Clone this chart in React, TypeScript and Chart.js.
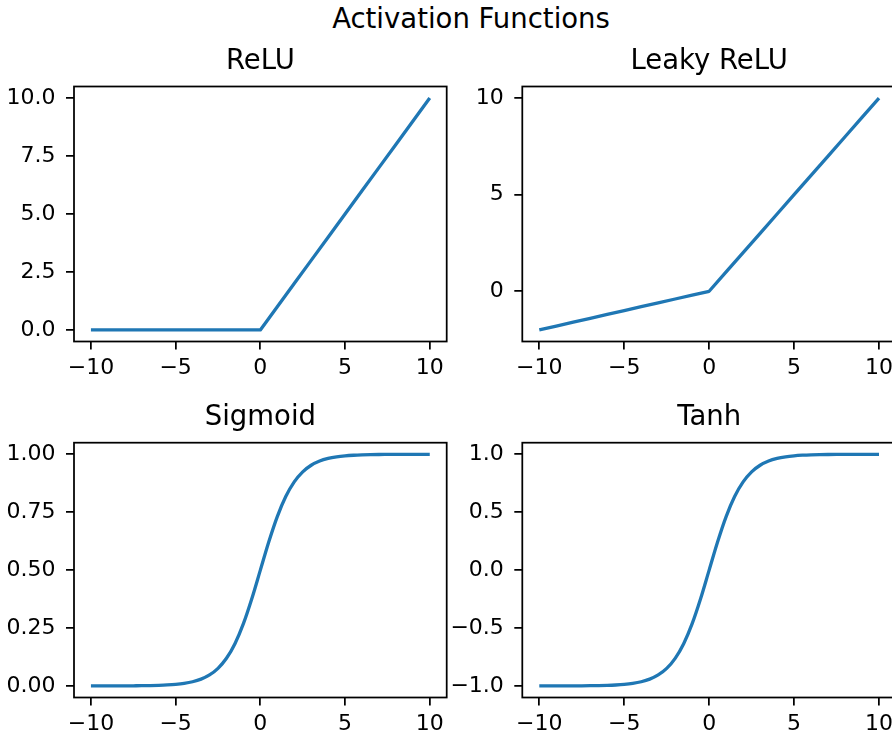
import React, { useEffect, useRef } from 'react';
import { Chart, registerables } from 'chart.js';

Chart.register(...registerables);

// ---------------- data ----------------
const FIG_TITLE = 'Activation Functions';
const PANEL_TITLES = ['ReLU', 'Leaky ReLU', 'Sigmoid', 'Tanh'];

const X_LINE = [-10, -9, -8, -7, -6, -5, -4, -3, -2, -1, 0, 1, 2, 3, 4, 5, 6, 7, 8, 9, 10];
const RELU_Y = [0, 0, 0, 0, 0, 0, 0, 0, 0, 0, 0, 1, 2, 3, 4, 5, 6, 7, 8, 9, 10];
const LEAKY_Y = [-2, -1.8, -1.6, -1.4, -1.2, -1, -0.8, -0.6, -0.4, -0.2, 0, 1, 2, 3, 4, 5, 6, 7, 8, 9, 10];

const X_SMOOTH = [
  -10, -9.5, -9, -8.5, -8, -7.5, -7, -6.5, -6, -5.5, -5, -4.5, -4, -3.5, -3, -2.5, -2, -1.5, -1, -0.5,
  0, 0.5, 1, 1.5, 2, 2.5, 3, 3.5, 4, 4.5, 5, 5.5, 6, 6.5, 7, 7.5, 8, 8.5, 9, 9.5, 10,
];
const SIGMOID_Y = [
  0.0000, 0.0001, 0.0001, 0.0002, 0.0003, 0.0006, 0.0009, 0.0015, 0.0025, 0.0041, 0.0067, 0.0110, 0.0180,
  0.0293, 0.0474, 0.0759, 0.1192, 0.1824, 0.2689, 0.3775, 0.5000, 0.6225, 0.7311, 0.8176, 0.8808, 0.9241,
  0.9526, 0.9707, 0.9820, 0.9890, 0.9933, 0.9959, 0.9975, 0.9985, 0.9991, 0.9994, 0.9997, 0.9998, 0.9999,
  0.9999, 1.0000,
];
const TANH_Y = [
  -0.9999, -0.9999, -0.9998, -0.9996, -0.9993, -0.9989, -0.9982, -0.9970, -0.9951, -0.9918, -0.9866, -0.9780,
  -0.9640, -0.9414, -0.9051, -0.8483, -0.7616, -0.6351, -0.4621, -0.2449, 0.0, 0.2449, 0.4621, 0.6351, 0.7616,
  0.8483, 0.9051, 0.9414, 0.9640, 0.9780, 0.9866, 0.9918, 0.9951, 0.9970, 0.9982, 0.9989, 0.9993, 0.9996,
  0.9998, 0.9999, 0.9999,
];

const X_TICKS = [-10, -5, 0, 5, 10];
const X_TICK_LABELS = ['−10', '−5', '0', '5', '10'];
const RELU_Y_TICKS = [0, 2.5, 5, 7.5, 10];
const RELU_Y_LABELS = ['0.0', '2.5', '5.0', '7.5', '10.0'];
const LEAKY_Y_TICKS = [0, 5, 10];
const LEAKY_Y_LABELS = ['0', '5', '10'];
const SIGMOID_Y_TICKS = [0, 0.25, 0.5, 0.75, 1];
const SIGMOID_Y_LABELS = ['0.00', '0.25', '0.50', '0.75', '1.00'];
const TANH_Y_TICKS = [-1, -0.5, 0, 0.5, 1];
const TANH_Y_LABELS = ['−1.0', '−0.5', '0.0', '0.5', '1.0'];

// ---------------- styling / layout ----------------
const FONT = '"DejaVu Sans", "Liberation Sans", sans-serif';
const LINE_COLOR = '#1f77b4';
const TICK_SIZE = 22;
const TITLE_SIZE = 27.5;
const SPINE_W = 1.75;

type Rect = { left: number; top: number; w: number; h: number };
type Area = { L: number; T: number; R: number; B: number };

type PanelSpec = {
  title: string;
  xs: number[];
  ys: number[];
  yTicks: number[];
  yLabels: string[];
  smooth: boolean;
  canvas: Rect;
  area: Area;
};

const PANELS: PanelSpec[] = [
  {
    title: PANEL_TITLES[0], xs: X_LINE, ys: RELU_Y, yTicks: RELU_Y_TICKS, yLabels: RELU_Y_LABELS, smooth: false,
    canvas: { left: 0, top: 0, w: 470, h: 385 }, area: { L: 74, T: 86.5, R: 446.7, B: 341.5 },
  },
  {
    title: PANEL_TITLES[1], xs: X_LINE, ys: LEAKY_Y, yTicks: LEAKY_Y_TICKS, yLabels: LEAKY_Y_LABELS, smooth: false,
    canvas: { left: 440, top: 0, w: 500, h: 385 }, area: { L: 522.3, T: 86.5, R: 896, B: 341.5 },
  },
  {
    title: PANEL_TITLES[2], xs: X_SMOOTH, ys: SIGMOID_Y, yTicks: SIGMOID_Y_TICKS, yLabels: SIGMOID_Y_LABELS, smooth: true,
    canvas: { left: 0, top: 385, w: 470, h: 353 }, area: { L: 74, T: 442.7, R: 446.7, B: 697.5 },
  },
  {
    title: PANEL_TITLES[3], xs: X_SMOOTH, ys: TANH_Y, yTicks: TANH_Y_TICKS, yLabels: TANH_Y_LABELS, smooth: true,
    canvas: { left: 440, top: 385, w: 500, h: 353 }, area: { L: 522.3, T: 442.7, R: 896, B: 697.5 },
  },
];

const framePlugin = {
  id: 'frame',
  afterDraw(chart: any) {
    const { ctx, chartArea } = chart;
    const { left, top, right, bottom } = chartArea;
    ctx.save();
    ctx.strokeStyle = '#000';
    ctx.lineWidth = SPINE_W;
    ctx.strokeRect(left, top, right - left, bottom - top);
    ctx.restore();
  },
};

function Panel({ spec }: { spec: PanelSpec }) {
  const ref = useRef<HTMLCanvasElement | null>(null);

  useEffect(() => {
    if (!ref.current) return;
    const { canvas, area } = spec;
    const lineH = TITLE_SIZE * 1.2;
    const baseline = area.T - 15.5 - canvas.top;
    const padTop = baseline - lineH / 2 - 0.346 * TITLE_SIZE;
    const padBottom = area.T - canvas.top - padTop - lineH;
    const yAxisW = area.L - canvas.left;
    const xAxisH = canvas.top + canvas.h - area.B;
    const padRight = canvas.left + canvas.w - area.R;

    const yMin = Math.min(...spec.ys);
    const yMax = Math.max(...spec.ys);
    const yMargin = (yMax - yMin) * 0.05;
    const xMin = Math.min(...spec.xs);
    const xMax = Math.max(...spec.xs);
    const xMargin = (xMax - xMin) * 0.05;

    const gridOpts = {
      display: true,
      drawOnChartArea: false,
      drawTicks: true,
      tickLength: 8,
      lineWidth: SPINE_W,
      tickWidth: SPINE_W,
      color: '#000',
      tickColor: '#000',
    };

    const chart = new Chart(ref.current, {
      type: 'line',
      data: {
        datasets: [
          {
            data: spec.xs.map((x, i) => ({ x, y: spec.ys[i] })),
            borderColor: LINE_COLOR,
            backgroundColor: LINE_COLOR,
            borderWidth: 3.3,
            pointRadius: 0,
            fill: false,
            tension: 0,
            cubicInterpolationMode: spec.smooth ? 'monotone' : 'default',
            borderJoinStyle: 'round',
          } as any,
        ],
      },
      options: {
        responsive: false,
        animation: false,
        devicePixelRatio: 1,
        events: [],
        layout: { padding: { left: 0, top: 0, right: padRight, bottom: 0 } },
        plugins: {
          legend: { display: false },
          tooltip: { enabled: false },
          title: {
            display: true,
            text: spec.title,
            fullSize: false,
            color: '#000',
            font: { family: FONT, size: TITLE_SIZE, weight: 'normal', lineHeight: 1.2 },
            padding: { top: padTop, bottom: padBottom },
          },
        },
        scales: {
          x: {
            type: 'linear',
            position: 'bottom',
            bounds: 'data',
            min: xMin - xMargin,
            max: xMax + xMargin,
            afterBuildTicks: (s: any) => {
              s.ticks = X_TICKS.map((v) => ({ value: v }));
            },
            afterFit: (s: any) => {
              s.height = xAxisH;
            },
            ticks: {
              autoSkip: false,
              maxRotation: 0,
              padding: 5.7,
              color: '#000',
              font: { family: FONT, size: TICK_SIZE },
              callback: (v: any) => X_TICK_LABELS[X_TICKS.indexOf(Number(v))],
            },
            grid: gridOpts,
            border: { display: false },
          },
          y: {
            type: 'linear',
            position: 'left',
            bounds: 'data',
            min: yMin - yMargin,
            max: yMax + yMargin,
            afterBuildTicks: (s: any) => {
              s.ticks = spec.yTicks.map((v) => ({ value: v }));
            },
            afterFit: (s: any) => {
              s.width = yAxisW;
            },
            ticks: {
              autoSkip: false,
              padding: 10.5,
              color: '#000',
              font: { family: FONT, size: TICK_SIZE },
              callback: (v: any) => spec.yLabels[spec.yTicks.indexOf(Number(v))],
            },
            grid: gridOpts,
            border: { display: false },
          },
        },
      } as any,
      plugins: [framePlugin],
    });
    return () => chart.destroy();
  }, [spec]);

  const { left, top, w, h } = spec.canvas;
  return (
    <canvas
      ref={ref}
      width={w}
      height={h}
      style={{ position: 'absolute', left, top, width: w, height: h }}
    />
  );
}

export default function App() {
  return (
    <div
      style={{
        position: 'fixed',
        left: 0,
        top: 0,
        width: 892,
        height: 738,
        overflow: 'hidden',
        background: '#fff',
      }}
    >
      <div
        style={{
          position: 'absolute',
          left: 0,
          top: 4.7,
          width: 942,
          textAlign: 'center',
          fontFamily: FONT,
          fontSize: TITLE_SIZE,
          lineHeight: `${TITLE_SIZE}px`,
          color: '#000',
          whiteSpace: 'nowrap',
        }}
      >
        {FIG_TITLE}
      </div>
      {PANELS.map((p, i) => (
        <Panel key={i} spec={p} />
      ))}
    </div>
  );
}
